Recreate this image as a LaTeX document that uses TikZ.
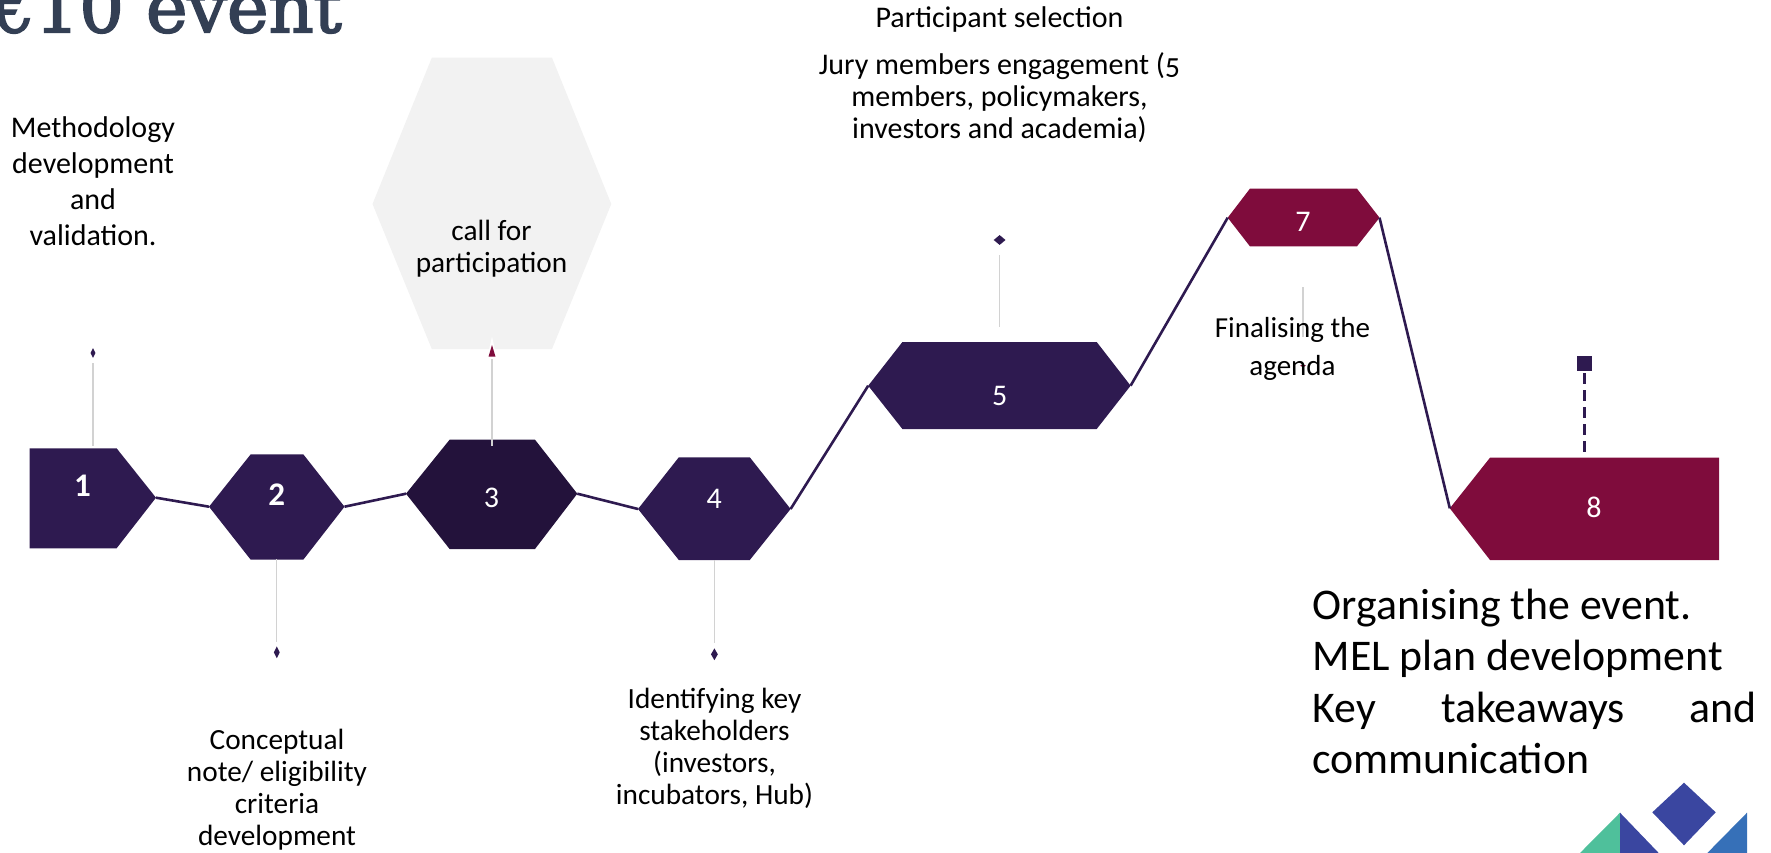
\documentclass[tikz,border=0pt]{standalone}
\usepackage{fontspec}
\setmainfont{Carlito}
\newfontfamily\titlefont[FakeBold=2.5]{DejaVu Serif}
\usetikzlibrary{shapes.geometric}
\definecolor{stagepurple}{HTML}{2E1A50}
\definecolor{stagedark}{HTML}{23123B}
\definecolor{stagemaroon}{HTML}{7F0C3C}
\definecolor{stemgray}{HTML}{D2D2D2}
\definecolor{titleslate}{HTML}{333F54}
\definecolor{logogreen}{HTML}{4FC09B}
\definecolor{logoblue}{HTML}{3A46A0}
\definecolor{logosky}{HTML}{3670B8}
\tikzset{
  lbl/.style={align=center,inner sep=0pt,font=\fontsize{30}{36}\selectfont},
  lblnarrow/.style={align=center,inner sep=0pt,font=\fontsize{29.3}{32}\selectfont},
  num/.style={inner sep=0pt,text=white,font=\fontsize{30}{30}\selectfont},
  numbold/.style={num,font=\fontsize{33}{33}\selectfont\bfseries},
  link/.style={draw=stagepurple,line width=2.6pt},
  stem/.style={draw=stemgray,line width=2pt},
  thinstem/.style={draw=stemgray,line width=1.2pt},
  dotmark/.style={diamond,fill=stagepurple,inner sep=0pt,minimum width=#1},
}
\begin{document}
\begin{tikzpicture}[x=1pt,y=-1pt]
\useasboundingbox (0,0) rectangle (1771,853);

\node[anchor=base east,text=titleslate,inner sep=0pt,font=\fontsize{70}{70}\selectfont\titlefont] (title) at (342,32.3) {€10 event};

% side hexagon behind stage 3
\fill[black!5] (372.5,204) -- (431.8,57.7) -- (552,57.7) -- (611.3,204) -- (552,349) -- (431.8,349) -- cycle;

\coordinate (r1) at (156,497.7);
\coordinate (l2) at (209,506.7);
\coordinate (r2) at (344.5,506.7);
\coordinate (l3) at (406,493.7);
\coordinate (r3) at (577.3,493.7);
\coordinate (l4) at (638,509);
\coordinate (r4) at (790.6,509);
\coordinate (l5) at (868.2,385.7);
\coordinate (r5) at (1130.6,385.7);
\coordinate (l7) at (1227.7,217.7);
\coordinate (r7) at (1379.5,217.7);
\coordinate (l8) at (1449.8,508.3);

\fill[stagepurple] (29.7,448.3) -- (116.6,448.3) -- (r1) -- (116.6,548.3) -- (29.7,548.3) -- cycle;
\fill[stagepurple] (l2) -- (250.7,454.3) -- (303.3,454.3) -- (r2) -- (303.3,559.7) -- (250.7,559.7) -- cycle;
\fill[stagedark] (l3) -- (449.6,439.7) -- (535,439.7) -- (r3) -- (535,549) -- (449.6,549) -- cycle;
\fill[stagepurple] (l4) -- (678.8,457.3) -- (749.8,457.3) -- (r4) -- (749.8,560) -- (678.8,560) -- cycle;
\fill[stagepurple] (l5) -- (902.4,342) -- (1096.7,342) -- (r5) -- (1096.7,429) -- (902.4,429) -- cycle;
\fill[stagemaroon] (l7) -- (1249.9,188.7) -- (1357,188.7) -- (r7) -- (1357,246.3) -- (1249.9,246.3) -- cycle;
\fill[stagemaroon] (l8) -- (1490,457.7) -- (1719,457.7) -- (1719,560) -- (1490,560) -- cycle;

\draw[link] (r1) -- (l2);
\draw[link] (r2) -- (l3);
\draw[link] (r3) -- (l4);
\draw[link] (r4) -- (l5);
\draw[link] (r5) -- (l7);
\draw[link] (r7) -- (l8);

\node[numbold] (n1) at (82.6,486) {1};
\node[numbold] (n2) at (276.8,495) {2};
\node[num] (n3) at (491.5,497.7) {3};
\node[num] (n4) at (714.3,499) {4};
\node[num] (n5) at (999.6,396) {5};
\node[num] (n7) at (1303,222.3) {7};
\node[num] (n8) at (1594,507.7) {8};

% stems and their end marks
\node[dotmark=5pt,minimum height=10pt] (m1) at (93,353) {};
\node[dotmark=6pt,minimum height=12pt] (m2) at (276.8,652.3) {};
\node[dotmark=7pt,minimum height=12pt] (m4) at (714.4,654.3) {};
\node[dotmark=12pt,minimum height=10pt] (m5) at (999.6,240) {};
\node[dotmark=6pt,minimum height=3pt,fill=stagemaroon] (m7) at (1303,365.7) {};
\node[fill=stagepurple,inner sep=0pt,minimum size=14.6pt] (m8) at (1584.2,363.7) {};
\fill[white] (492,336.7) -- (496.5,356.7) -- (487.5,356.7) -- cycle;
\fill[stagemaroon] (492,345) -- (495.5,356.7) -- (488.5,356.7) -- cycle;

\coordinate (s1a) at (93,363);
\coordinate (s1b) at (93,445.7);
\coordinate (s2a) at (276.8,559);
\coordinate (s2b) at (276.8,641.5);
\coordinate (s3a) at (491.9,359.3);
\coordinate (s3b) at (491.9,445.7);
\coordinate (s4a) at (714.3,560);
\coordinate (s4b) at (714.3,643);
\coordinate (s5a) at (999.6,255);
\coordinate (s5b) at (999.6,327.3);
\coordinate (s7a) at (1303.4,287.3);
\coordinate (s7b) at (1303.4,336.7);
\coordinate (s8a) at (1584.2,373.3);
\coordinate (s8b) at (1584.2,457.7);
\draw[stem] (s1a) -- (s1b);
\draw[thinstem] (s2a) -- (s2b);
\draw[stem] (s3a) -- (s3b);
\draw[thinstem] (s4a) -- (s4b);
\draw[thinstem] (s5a) -- (s5b);
\draw[stem] (s7a) -- (s7b);
\draw[stagepurple,line width=2.6pt,dash pattern=on 11pt off 6pt] (s8a) -- (s8b);

\node[lbl] (t1) at (93,181) {Methodology\\development\\and\\validation.};
\node[lblnarrow] (t3) at (491.5,249) {call for\\participation};
\node[lbl] (t5a) at (999.5,20) {Participant selection};
\node[lbl,font=\fontsize{30}{32}\selectfont] (t5b) at (999.5,98) {Jury members engagement ({\addfontfeature{Numbers=OldStyle}5}\\members, policymakers,\\investors and academia)};
\node[lbl,font=\fontsize{29}{37.5}\selectfont] (t7) at (1292.5,349) {Finalising the\\agenda};
\node[lblnarrow] (t2) at (277,790) {Conceptual\\note/ eligibility\\criteria\\development};
\node[lblnarrow] (t4) at (714.5,748) {Identifying key\\stakeholders\\(investors,\\incubators, Hub)};
\node[anchor=north west,inner sep=0pt,text width=444pt,align=justify,font=\fontsize{43.8}{51.3}\selectfont] (t8) at (1312.5,589) {Organising the event.\\MEL plan development\\\makebox[444pt][s]{Key takeaways and}\\communication};

% logo corner
\fill[logoblue] (1684,782.7) -- (1715.7,812.3) -- (1684,845.3) -- (1652.3,812.3) -- cycle;
\fill[logogreen] (1620,812.7) -- (1620,853) -- (1580,853) -- cycle;
\fill[logoblue] (1620,812.7) -- (1658.7,853) -- (1620,853) -- cycle;
\fill[logosky] (1747,812.7) -- (1747,853) -- (1707.3,853) -- cycle;
\end{tikzpicture}
\end{document}
